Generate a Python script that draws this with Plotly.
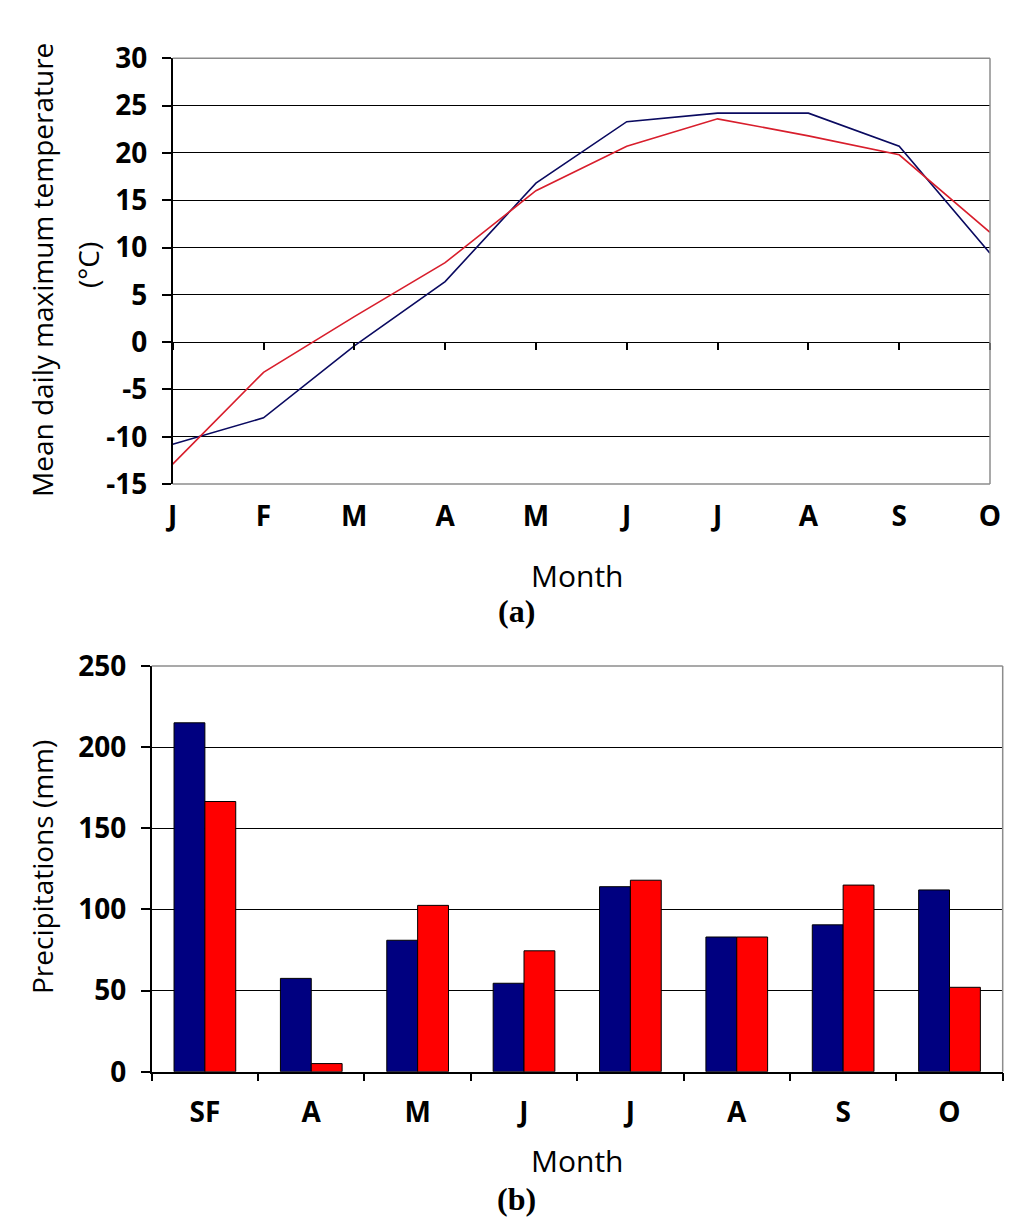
import plotly.graph_objects as go

# ---- data (a): mean daily maximum temperature (°C)
months_a = ["J", "F", "M", "A", "M", "J", "J", "A", "S", "O"]
temp_blue = [-10.8, -8.0, -0.4, 6.4, 16.8, 23.3, 24.2, 24.2, 20.7, 9.4]
temp_red = [-12.9, -3.2, 2.7, 8.4, 16.0, 20.7, 23.6, 21.8, 19.8, 11.6]
temp_ticks = [-15, -10, -5, 0, 5, 10, 15, 20, 25, 30]
temp_tick_labels = ["-15", "-10", "-5", "0", "5", "10", "15", "20", "25", "30"]

# ---- data (b): precipitations (mm)
months_b = ["SF", "A", "M", "J", "J", "A", "S", "O"]
prec_blue = [215, 57.5, 81, 54.5, 114, 83, 90.5, 112]
prec_red = [166.5, 5, 102.5, 74.5, 118, 83, 115, 52]
prec_ticks = [0, 50, 100, 150, 200, 250]

NAVY = "#000080"
RED = "#FF0000"
LINE_NAVY = "#0a0a60"
LINE_RED = "#d81e2c"
FONT = "Open Sans"

W, H = 1024, 1224
OFF = 8  # page body margin
def px_x(v):
    return (v - OFF) / W
def px_y(v):
    return 1 - (v - OFF) / H

dom_xa = [px_x(172.7), px_x(990)]
dom_ya = [px_y(484), px_y(58.3)]
dom_xb = [px_x(151.7), px_x(1002.7)]
dom_yb = [px_y(1071.7), px_y(666)]

idx_a = list(range(len(months_a)))
idx_b = list(range(len(months_b)))

fig = go.Figure()

fig.add_trace(go.Scatter(x=idx_a, y=temp_blue, mode="lines",
                         line=dict(color=LINE_NAVY, width=1.6),
                         xaxis="x", yaxis="y", showlegend=False))
fig.add_trace(go.Scatter(x=idx_a, y=temp_red, mode="lines",
                         line=dict(color=LINE_RED, width=1.6),
                         xaxis="x", yaxis="y", showlegend=False))
fig.add_trace(go.Scatter(x=idx_a, y=temp_red, mode="markers",
                         marker=dict(opacity=0), hoverinfo="skip",
                         xaxis="x3", yaxis="y", showlegend=False))

fig.add_trace(go.Bar(x=idx_b, y=prec_blue, marker=dict(color=NAVY, line=dict(color="black", width=1)),
                     xaxis="x2", yaxis="y2", showlegend=False))
fig.add_trace(go.Bar(x=idx_b, y=prec_red, marker=dict(color=RED, line=dict(color="black", width=1)),
                     xaxis="x2", yaxis="y2", showlegend=False))
fig.add_trace(go.Scatter(x=idx_b, y=prec_red, mode="markers",
                         marker=dict(opacity=0), hoverinfo="skip",
                         xaxis="x4", yaxis="y2", showlegend=False))

tick_font = dict(family=FONT, size=28, color="black", weight="bold")
title_font = dict(family=FONT, size=28, color="black")
month_font = dict(family=FONT, size=30, color="black")

zero_pos = dom_ya[0] + (0 - (-15)) / 45 * (dom_ya[1] - dom_ya[0])

fig.update_layout(
    template="none",
    width=W, height=H, autosize=False,
    margin=dict(l=0, r=0, t=0, b=0, pad=0),
    paper_bgcolor="white", plot_bgcolor="white",
    barmode="group", bargap=0.42, bargroupgap=0,
    xaxis=dict(domain=dom_xa, anchor="y", range=[0, len(months_a) - 1], automargin=False,
               tickvals=idx_a, ticktext=months_a, showgrid=False, zeroline=False,
               showline=False, ticks="", tickfont=tick_font, ticklabelstandoff=13),
    xaxis3=dict(overlaying="x", anchor="free", position=zero_pos, automargin=False,
                range=[0, len(months_a) - 1], tickvals=idx_a, showticklabels=False,
                showgrid=False, zeroline=False, showline=False,
                ticks="outside", ticklen=7, tickcolor="black", tickwidth=1.5),
    yaxis=dict(domain=dom_ya, anchor="x", range=[-15, 30], tickvals=temp_ticks,
               ticktext=temp_tick_labels, automargin=False,
               showgrid=True, gridcolor="black", gridwidth=1.3, zeroline=False,
               showline=True, linecolor="black", linewidth=1.5,
               ticks="outside", ticklen=9, tickcolor="black", tickwidth=1.5,
               tickfont=tick_font, ticklabelstandoff=9),
    xaxis2=dict(domain=dom_xb, anchor="y2", range=[-0.5, len(months_b) - 0.5], automargin=False,
                tickvals=idx_b, ticktext=months_b, showgrid=False, zeroline=False,
                showline=False, ticks="", tickfont=tick_font, ticklabelstandoff=21),
    xaxis4=dict(overlaying="x2", anchor="y2", range=[-0.5, len(months_b) - 0.5], automargin=False,
                tickvals=[i - 0.5 for i in range(len(months_b) + 1)], showticklabels=False,
                showgrid=False, zeroline=False, showline=True, linecolor="black", linewidth=1.5,
                ticks="outside", ticklen=8, tickcolor="black", tickwidth=1.5),
    yaxis2=dict(domain=dom_yb, anchor="x2", range=[0, 250], tickvals=prec_ticks, automargin=False,
                showgrid=True, gridcolor="black", gridwidth=1.3, zeroline=False,
                showline=True, linecolor="black", linewidth=1.5,
                ticks="outside", ticklen=9, tickcolor="black", tickwidth=1.5,
                tickfont=tick_font, ticklabelstandoff=9),
)

GRAY = "#8c8c8c"
for xr, yr, (x0, x1, y0, y1) in [
    ("x domain", "y domain", (0, 1, 1, 1)),
    ("x domain", "y domain", (1, 1, 0, 1)),
    ("x domain", "y domain", (0, 1, 0, 0)),
    ("x2 domain", "y2 domain", (0, 1, 1, 1)),
    ("x2 domain", "y2 domain", (1, 1, 0, 1)),
]:
    fig.add_shape(type="line", xref=xr, yref=yr, x0=x0, x1=x1, y0=y0, y1=y1,
                  line=dict(color=GRAY, width=1.5))

def ann(text, x, y, font, angle=0):
    fig.add_annotation(text=text, x=px_x(x), y=px_y(y), xref="paper", yref="paper",
                       showarrow=False, font=font, textangle=angle,
                       xanchor="center", yanchor="middle")

ann("Month", 577, 575, month_font)
ann("Month", 577, 1160, month_font)
ann("Mean daily maximum temperature", 42, 270, title_font, -90)
ann("(°C)", 88, 265, title_font, -90)
ann("Precipitations (mm)", 42, 867, title_font, -90)
cap_font = dict(family="Liberation Serif", size=32, color="black", weight="bold")
ann("(a)", 516, 611, cap_font)
ann("(b)", 516, 1199, cap_font)

fig.write_html("out.html")
